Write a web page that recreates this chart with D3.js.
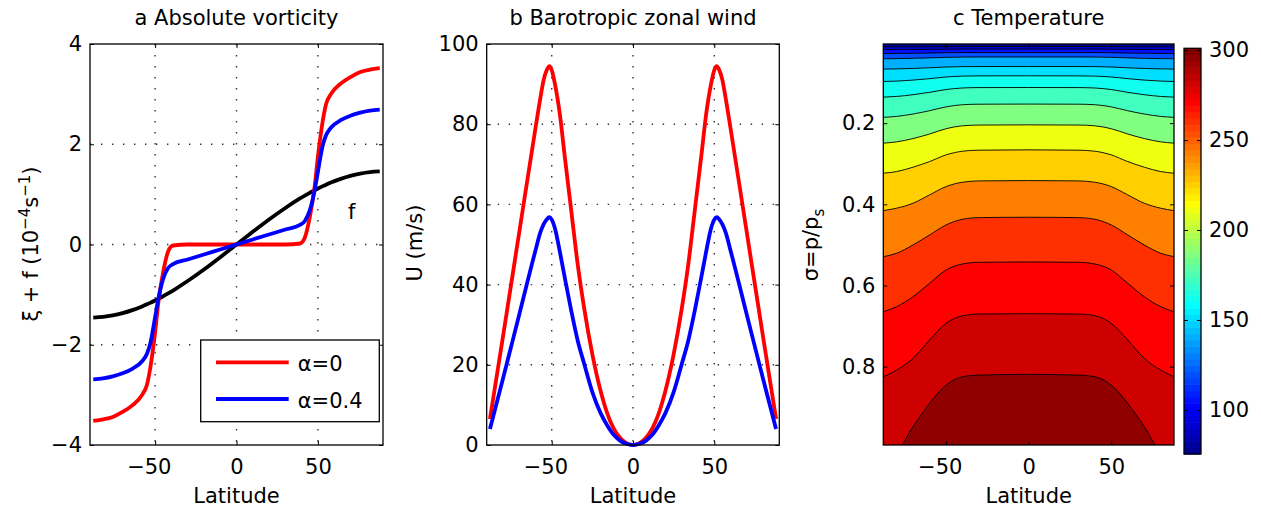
<!DOCTYPE html>
<html>
<head>
<meta charset="utf-8">
<script src="https://cdn.jsdelivr.net/npm/d3@7"></script>
<style>
  body { margin: 0; background: #fff; }
  svg { font-family: "DejaVu Sans", sans-serif; }
</style>
</head>
<body>
<svg id="fig" width="1261" height="508"></svg>
<script>
// ---- a: absolute vorticity (1e-4 s^-1) ----
const latA = [-88, -82, -76, -70, -64, -58, -55, -53, -50, -48, -45, -42, -39, -30, -20, -10, 0,
  10, 20, 30, 39, 42, 45, 48, 50, 53, 55, 58, 64, 70, 76, 82, 88];
const vortAlpha0 = [-3.52, -3.49, -3.44, -3.34, -3.21, -3.0, -2.8, -2.47, -1.75, -1.15, -0.54, -0.14, -0.02, 0, 0, 0, 0,
  0, 0, 0, 0.02, 0.14, 0.54, 1.15, 1.75, 2.47, 2.8, 3.0, 3.21, 3.34, 3.44, 3.49, 3.52];
const vortAlpha04 = [-2.69, -2.67, -2.63, -2.57, -2.48, -2.33, -2.18, -1.98, -1.45, -1.08, -0.68, -0.47, -0.39, -0.3, -0.2, -0.1, 0,
  0.1, 0.2, 0.3, 0.39, 0.47, 0.68, 1.08, 1.45, 1.98, 2.18, 2.33, 2.48, 2.57, 2.63, 2.67, 2.69];
const coriolisF = [-1.457, -1.444, -1.415, -1.37, -1.31, -1.236, -1.194, -1.164, -1.117, -1.084, -1.031, -0.976, -0.918, -0.729, -0.499, -0.253, 0,
  0.253, 0.499, 0.729, 0.918, 0.976, 1.031, 1.084, 1.117, 1.164, 1.194, 1.236, 1.31, 1.37, 1.415, 1.444, 1.457];
const seriesNames = ["α=0", "α=0.4"];

// ---- b: barotropic zonal wind (m/s) ----
const latB = [-88, -80, -70, -60, -57, -55, -53, -51.5, -50, -48, -45, -42, -38, -34, -30, -25, -20, -16, -12, -8, -4, 0,
  4, 8, 12, 16, 20, 25, 30, 34, 38, 42, 45, 48, 50, 51.5, 53, 55, 57, 60, 70, 80, 88];
const windAlpha0 = [6.5, 27, 53, 79, 86.5, 91, 93.6, 94.5, 93.5, 90, 82.5, 72, 58.5, 45, 34, 22.6, 13.6, 8.1, 4.2, 1.8, 0.45, 0,
  0.45, 1.8, 4.2, 8.1, 13.6, 22.6, 34, 45, 58.5, 72, 82.5, 90, 93.5, 94.5, 93.6, 91, 86.5, 79, 53, 27, 6.5];
const windAlpha04 = [4.0, 16.5, 32.5, 48.5, 53, 55, 56.3, 56.8, 56.2, 54, 48.2, 41.8, 33.5, 26, 20.2, 13.2, 8, 5, 2.6, 1.1, 0.3, 0,
  0.3, 1.1, 2.6, 5, 8, 13.2, 20.2, 26, 33.5, 41.8, 48.2, 54, 56.2, 56.8, 56.3, 55, 53, 48.5, 32.5, 16.5, 4.0];

// ---- c: temperature contours, sigma of each contour (south half, field is symmetric) ----
const latC = [-88, -80, -70, -60, -50, -40, -30, 0];
const contourSigma = [
  [0.012, 0.0119, 0.0118, 0.0115, 0.0112, 0.011, 0.011, 0.011],
  [0.019, 0.0189, 0.0186, 0.0183, 0.0178, 0.0176, 0.0175, 0.0175],
  [0.0285, 0.0283, 0.0279, 0.0273, 0.0265, 0.0261, 0.026, 0.026],
  [0.0414, 0.0411, 0.0403, 0.0392, 0.0379, 0.0372, 0.037, 0.037],
  [0.0668, 0.0664, 0.0652, 0.0636, 0.0617, 0.0607, 0.0605, 0.0604],
  [0.0974, 0.0964, 0.0939, 0.0904, 0.0863, 0.0841, 0.0835, 0.0834],
  [0.1359, 0.1342, 0.13, 0.1241, 0.1172, 0.1134, 0.1124, 0.1122],
  [0.1857, 0.1834, 0.1775, 0.1694, 0.1599, 0.1546, 0.1533, 0.153],
  [0.2493, 0.2461, 0.238, 0.2268, 0.2137, 0.2065, 0.2047, 0.2042],
  [0.3233, 0.3194, 0.3085, 0.2947, 0.2782, 0.2691, 0.2666, 0.2658],
  [0.4155, 0.4096, 0.3973, 0.3768, 0.3563, 0.3455, 0.3423, 0.3415],
  [0.529, 0.5206, 0.5001, 0.4755, 0.4508, 0.4367, 0.4328, 0.4318],
  [0.6646, 0.6523, 0.6276, 0.5946, 0.5618, 0.547, 0.5428, 0.542],
  [0.8249, 0.8084, 0.7795, 0.7344, 0.6932, 0.6745, 0.6703, 0.6695],
  [1.03, 1.012, 0.948, 0.8905, 0.8454, 0.8249, 0.8207, 0.819]
];
// temperature (K) of each filled band, top (cold) to bottom (warm)
const bandTemp = [80, 92, 104, 118, 139, 152, 163, 174, 188, 211, 227, 242, 259, 272, 281, 297];
const colorbarTicks = [100, 150, 200, 250, 300];
const tempRange = [75.5, 301];

const svg = d3.select("#fig");
const FS = 21;

function drawAxes(g, x, y, xTicks, yTicks, yFmt) {
  const yb = d3.max(y.range()), yt = d3.min(y.range());
  const xl = x.range()[0], xr = x.range()[1];
  const xa = g.append("g").attr("transform", `translate(0,${yb})`)
    .call(d3.axisBottom(x).tickValues(xTicks).tickSize(-4).tickPadding(14.5));
  g.append("g").attr("transform", `translate(0,${yt})`)
    .call(d3.axisTop(x).tickValues(xTicks).tickSize(-4).tickFormat(""));
  g.append("g").attr("transform", `translate(${xl},0)`)
    .call(d3.axisLeft(y).tickValues(yTicks).tickSize(-4).tickPadding(8).tickFormat(yFmt));
  g.append("g").attr("transform", `translate(${xr},0)`)
    .call(d3.axisRight(y).tickValues(yTicks).tickSize(-4).tickFormat(""));
  g.selectAll(".domain").remove();
  g.selectAll("g").attr("font-size", FS).attr("font-family", "DejaVu Sans");
  g.selectAll(".tick line").attr("stroke", "#000");
  g.selectAll(".tick text").attr("fill", "#000");
  xa.selectAll(".tick text").filter(d => d < 0).attr("dx", "-0.3em");
  g.append("rect")
    .attr("x", xl).attr("y", yt).attr("width", xr - xl).attr("height", yb - yt)
    .attr("fill", "none").attr("stroke", "#000").attr("stroke-width", 1.3);
}

function drawGrid(g, x, y, gx, gy) {
  const yb = d3.max(y.range()), yt = d3.min(y.range());
  const [xl, xr] = x.range();
  g.selectAll(null).data(gx).enter().append("line")
    .attr("x1", d => x(d)).attr("x2", d => x(d)).attr("y1", yt).attr("y2", yb);
  g.selectAll(null).data(gy).enter().append("line")
    .attr("y1", d => y(d)).attr("y2", d => y(d)).attr("x1", xl).attr("x2", xr);
  g.selectAll("line").attr("stroke", "#333").attr("stroke-width", 1.4)
    .attr("stroke-dasharray", "1.4,9.6");
}

function titleAndXLabel(cx, title) {
  svg.append("text").attr("x", cx).attr("y", 25).attr("text-anchor", "middle")
    .attr("font-size", FS).text(title);
  svg.append("text").attr("x", cx).attr("y", 503).attr("text-anchor", "middle")
    .attr("font-size", FS).text("Latitude");
}

// ---------- panel a ----------
const xA = d3.scaleLinear().domain([-90, 90]).range([90, 383]);
const yA = d3.scaleLinear().domain([-4, 4]).range([445, 44]);
const gA = svg.append("g");
drawGrid(gA.append("g"), xA, yA, [-50, 0, 50], [-2, 0, 2]);
const lineA = d3.line().x(d => xA(d[0])).y(d => yA(d[1])).curve(d3.curveMonotoneX);
const curvesA = [
  { v: coriolisF, c: "#000" },
  { v: vortAlpha0, c: "#ff0000" },
  { v: vortAlpha04, c: "#0000ff" }
];
gA.selectAll(".curve").data(curvesA).enter().append("path")
  .attr("d", s => lineA(latA.map((la, i) => [la, s.v[i]])))
  .attr("fill", "none").attr("stroke", s => s.c).attr("stroke-width", 3.8)
  .attr("stroke-linejoin", "round");
gA.append("text").attr("x", 351.7).attr("y", 219).attr("text-anchor", "middle")
  .attr("font-size", FS).text("f");
// legend
const leg = gA.append("g");
leg.append("rect").attr("x", 200.7).attr("y", 340).attr("width", 178.6).attr("height", 81.7)
  .attr("fill", "#fff").attr("stroke", "#000").attr("stroke-width", 1.3);
const legItems = leg.selectAll(".li").data(seriesNames).enter().append("g")
  .attr("transform", (d, i) => `translate(0,${362.3 + i * 36.7})`);
legItems.append("line").attr("x1", 216).attr("x2", 288.7)
  .attr("stroke", (d, i) => ["#ff0000", "#0000ff"][i]).attr("stroke-width", 3.8);
legItems.append("text").attr("x", 297.7).attr("y", 9).attr("font-size", FS).text(d => d);
drawAxes(gA, xA, yA, [-50, 0, 50], [-4, -2, 0, 2, 4], d3.format("d"));
const ylA = svg.append("text").attr("transform", "translate(38,244) rotate(-90)")
  .attr("text-anchor", "middle").attr("font-size", FS);
ylA.append("tspan").text("ξ + f (10");
ylA.append("tspan").attr("font-size", 15).attr("dy", -8).text("−4");
ylA.append("tspan").attr("dy", 8).text("s");
ylA.append("tspan").attr("font-size", 15).attr("dy", -8).text("−1");
ylA.append("tspan").attr("dy", 8).text(")");
titleAndXLabel(236.5, "a Absolute vorticity");

// ---------- panel b ----------
const xB = d3.scaleLinear().domain([-90, 90]).range([486.7, 779.3]);
const yB = d3.scaleLinear().domain([0, 100]).range([445, 44]);
const gB = svg.append("g");
drawGrid(gB.append("g"), xB, yB, [-50, 0, 50], [20, 40, 60, 80]);
const lineB = d3.line().x(d => xB(d[0])).y(d => yB(d[1])).curve(d3.curveMonotoneX);
const curvesB = [
  { v: windAlpha0, c: "#ff0000" },
  { v: windAlpha04, c: "#0000ff" }
];
gB.selectAll(".curve").data(curvesB).enter().append("path")
  .attr("d", s => lineB(latB.map((la, i) => [la, s.v[i]])))
  .attr("fill", "none").attr("stroke", s => s.c).attr("stroke-width", 3.8)
  .attr("stroke-linejoin", "round");
drawAxes(gB, xB, yB, [-50, 0, 50], [0, 20, 40, 60, 80, 100], d3.format("d"));
svg.append("text").attr("transform", "translate(422,243) rotate(-90)")
  .attr("text-anchor", "middle").attr("font-size", FS).text("U (m/s)");
titleAndXLabel(633, "b Barotropic zonal wind");

// ---------- panel c ----------
const xC = d3.scaleLinear().domain([-88, 88]).range([883.3, 1174]);
const yC = d3.scaleLinear().domain([0.005, 0.993]).range([44, 445]);
const jetStops = d3.scaleLinear().domain([0, 1 / 8, 3 / 8, 5 / 8, 7 / 8, 1])
  .range(["#000080", "#0000ff", "#00ffff", "#ffff00", "#ff0000", "#800000"]);
const jet64 = d3.range(1, 65).map(i => jetStops(i / 64));
const color = d3.scaleQuantize().domain(tempRange).range(jet64);

const gC = svg.append("g");
gC.append("clipPath").attr("id", "clipC").append("rect")
  .attr("x", 883.3).attr("y", 44).attr("width", 1174 - 883.3).attr("height", 401);
const field = gC.append("g").attr("clip-path", "url(#clipC)");
const fullLat = latC.concat(latC.slice(0, -1).reverse().map(d => -d));
const contours = contourSigma.map(s => {
  const full = s.concat(s.slice(0, -1).reverse());
  return fullLat.map((la, i) => [la, full[i]]);
});
field.append("rect").attr("x", 883.3).attr("y", 44).attr("width", 1174 - 883.3).attr("height", 401)
  .attr("fill", color(bandTemp[0]));
const areaC = d3.area().x(d => xC(d[0])).y0(yC(1.2)).y1(d => yC(d[1])).curve(d3.curveMonotoneX);
const lineC = d3.line().x(d => xC(d[0])).y(d => yC(d[1])).curve(d3.curveMonotoneX);
field.selectAll(".band").data(contours).enter().append("path")
  .attr("d", areaC).attr("fill", (d, i) => color(bandTemp[i + 1]));
field.selectAll(".cline").data(contours).enter().append("path")
  .attr("d", lineC).attr("fill", "none").attr("stroke", "#000").attr("stroke-width", 0.9);
drawAxes(gC, xC, yC, [-50, 0, 50], [0.2, 0.4, 0.6, 0.8], d3.format(".1f"));
const ylC = svg.append("text").attr("transform", "translate(818,245) rotate(-90)")
  .attr("text-anchor", "middle").attr("font-size", FS);
ylC.append("tspan").text("σ=p/p");
ylC.append("tspan").attr("font-size", 15).attr("dy", 6).text("s");
titleAndXLabel(1028.7, "c Temperature");

// colorbar
const yCb = d3.scaleLinear().domain(tempRange).range([454, 48.3]);
const cbStep = (tempRange[1] - tempRange[0]) / 64;
const gCb = svg.append("g");
gCb.selectAll("rect").data(jet64).enter().append("rect")
  .attr("x", 1184).attr("width", 17)
  .attr("y", (d, i) => yCb(tempRange[0] + (i + 1) * cbStep))
  .attr("height", (d, i) => yCb(tempRange[0] + i * cbStep) - yCb(tempRange[0] + (i + 1) * cbStep) + 0.6)
  .attr("fill", d => d);
gCb.append("g").attr("transform", "translate(1201,0)")
  .call(d3.axisRight(yCb).tickValues(colorbarTicks).tickSize(-4).tickPadding(8));
gCb.append("g").attr("transform", "translate(1184,0)")
  .call(d3.axisLeft(yCb).tickValues(colorbarTicks).tickSize(-4).tickFormat(""));
gCb.selectAll(".domain").remove();
gCb.selectAll("g").attr("font-size", FS).attr("font-family", "DejaVu Sans");
gCb.selectAll(".tick line").attr("stroke", "#000");
gCb.selectAll(".tick text").attr("fill", "#000");
gCb.append("rect").attr("x", 1184).attr("y", 48.3).attr("width", 17).attr("height", 454 - 48.3)
  .attr("fill", "none").attr("stroke", "#000").attr("stroke-width", 1.3);
</script>
</body>
</html>
